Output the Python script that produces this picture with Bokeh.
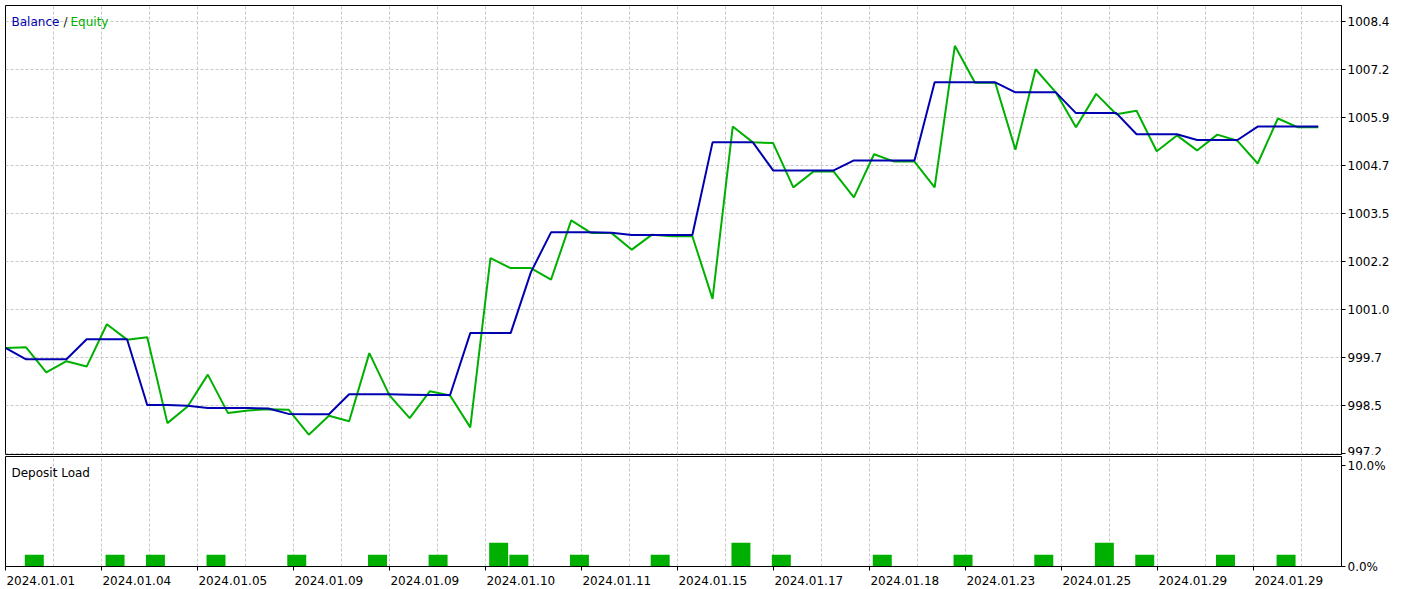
from bokeh.plotting import figure
from bokeh.layouts import column
from bokeh.models import Range1d, FixedTicker, Label, LinearAxis
from bokeh.embed import file_html
from bokeh.resources import INLINE

# ---------------- data ----------------
balance = [
    999.96, 999.67, 999.67, 999.67, 1000.19, 1000.19, 1000.19, 998.48, 998.48, 998.46,
    998.40, 998.40, 998.40, 998.39, 998.25, 998.24, 998.24, 998.76, 998.76, 998.76,
    998.75, 998.74, 998.74, 1000.35, 1000.35, 1000.35, 1001.93, 1002.97, 1002.97, 1002.97,
    1002.96, 1002.90, 1002.90, 1002.90, 1002.90, 1005.31, 1005.31, 1005.31, 1004.58, 1004.58,
    1004.58, 1004.58, 1004.84, 1004.84, 1004.84, 1004.84, 1006.87, 1006.87, 1006.87, 1006.87,
    1006.61, 1006.61, 1006.61, 1006.07, 1006.07, 1006.07, 1005.52, 1005.52, 1005.52, 1005.37,
    1005.37, 1005.37, 1005.72, 1005.72, 1005.72, 1005.72,
]
equity = [
    999.96, 999.98, 999.33, 999.62, 999.48, 1000.58, 1000.18, 1000.24, 998.01, 998.44,
    999.27, 998.27, 998.34, 998.37, 998.36, 997.71, 998.20, 998.06, 999.83, 998.73,
    998.14, 998.84, 998.73, 997.90, 1002.30, 1002.04, 1002.04, 1001.74, 1003.28, 1002.95,
    1002.95, 1002.52, 1002.91, 1002.87, 1002.87, 1001.24, 1005.72, 1005.31, 1005.29, 1004.14,
    1004.55, 1004.55, 1003.88, 1005.00, 1004.81, 1004.81, 1004.14, 1007.82, 1006.86, 1006.86,
    1005.12, 1007.21, 1006.61, 1005.70, 1006.57, 1006.04, 1006.13, 1005.08, 1005.49, 1005.10,
    1005.51, 1005.35, 1004.76, 1005.93, 1005.70, 1005.70,
]
load_deals = [1, 5, 7, 10, 14, 18, 21, 24, 25, 28, 32, 36, 38, 43, 47, 51, 54, 56, 60, 63]
load_pct = [1.17, 1.17, 1.17, 1.17, 1.17, 1.17, 1.17, 2.37, 1.17, 1.17,
            1.17, 2.37, 1.17, 1.17, 1.17, 1.17, 2.37, 1.17, 1.17, 1.17]
date_labels = ["2024.01.01", "2024.01.04", "2024.01.05", "2024.01.09", "2024.01.09",
               "2024.01.10", "2024.01.11", "2024.01.15", "2024.01.17", "2024.01.18",
               "2024.01.23", "2024.01.25", "2024.01.29", "2024.01.29"]
balance_tick_labels = ["997.2", "998.5", "999.7", "1001.0", "1002.2",
                       "1003.5", "1004.7", "1005.9", "1007.2", "1008.4"]
load_tick_values = [0, 10]
load_tick_labels = ["0.0%", "10.0%"]

# ---------------- styling ----------------
BLUE = "#0000B0"
GREEN = "#00B000"
GRID = "#C8C8C8"
FONT = "DejaVu Sans"
FS = "12px"

FRAME_W = 1336
PX = 20.19                       # pixels per deal step
x0 = -0.02
x1 = x0 + FRAME_W / PX
grid_x = [x0 + (48 * k + 0.3) / PX for k in range(1, 28)]
date_x = [x0 + (96 * k + 0.3) / PX for k in range(len(date_labels))]
# labels are drawn centred; shift them so they start just right of their tick
label_x = [d + 35.0 / PX for d in date_x]

y_base, y_step = 997.212, 1.248
y_ticks = [y_base + y_step * k for k in range(len(balance_tick_labels))]

deals = list(range(len(balance)))


def style_common(p):
    p.outline_line_color = "black"
    p.outline_line_width = 1
    p.outline_line_alpha = 1
    p.background_fill_color = "white"
    p.border_fill_color = "white"
    for ax in p.yaxis:
        ax.axis_line_color = "black"
        ax.major_tick_line_color = "black"
        ax.major_tick_out = 4
        ax.major_tick_in = 0
        ax.minor_tick_line_color = None
        ax.major_label_standoff = 2
        ax.major_label_text_font = FONT
        ax.major_label_text_font_size = FS
        ax.major_label_text_color = "black"
    p.xgrid.ticker = FixedTicker(ticks=grid_x)
    p.xgrid.grid_line_color = GRID
    p.xgrid.grid_line_dash = "3 2"
    p.xgrid.grid_line_width = 1


# ---------------- main panel ----------------
p1 = figure(frame_width=FRAME_W, frame_height=449,
            x_range=Range1d(x0, x1), y_range=Range1d(997.194, 1008.868),
            x_axis_location=None, y_axis_location="right",
            output_backend="svg", toolbar_location=None,
            min_border_left=1, min_border_top=1, min_border_bottom=1, min_border_right=52)
style_common(p1)
p1.yaxis.ticker = FixedTicker(ticks=y_ticks)
p1.yaxis.major_label_overrides = {v: s for v, s in zip(y_ticks, balance_tick_labels)}
p1.ygrid.ticker = FixedTicker(ticks=y_ticks)
p1.ygrid.grid_line_color = GRID
p1.ygrid.grid_line_dash = "3 2"

p1.line(deals, equity, line_color=GREEN, line_width=2)
p1.line(deals, balance, line_color=BLUE, line_width=2)

p1.add_layout(Label(x=6, y=433, x_units="screen", y_units="screen", text="Balance",
                    text_color=BLUE, text_font=FONT, text_font_size=FS, text_baseline="alphabetic"))
p1.add_layout(Label(x=58, y=433, x_units="screen", y_units="screen", text="/",
                    text_color="#202020", text_font=FONT, text_font_size=FS, text_baseline="alphabetic"))
p1.add_layout(Label(x=65, y=433, x_units="screen", y_units="screen", text="Equity",
                    text_color=GREEN, text_font=FONT, text_font_size=FS, text_baseline="alphabetic"))

# ---------------- deposit load panel ----------------
p2 = figure(frame_width=FRAME_W, frame_height=110,
            x_range=p1.x_range, y_range=Range1d(0, 10.945),
            x_axis_location=None, y_axis_location="right",
            output_backend="svg", toolbar_location=None,
            min_border_left=1, min_border_top=1, min_border_bottom=23, min_border_right=52)
style_common(p2)
p2.ygrid.visible = False
p2.yaxis.ticker = FixedTicker(ticks=load_tick_values)
p2.yaxis.major_label_overrides = {v: s for v, s in zip(load_tick_values, load_tick_labels)}

# date axis: visible (minor) tick marks at the dates, labels starting just right of them
date_axis = LinearAxis(ticker=FixedTicker(ticks=label_x, minor_ticks=date_x),
                       major_label_overrides={v: s for v, s in zip(label_x, date_labels)},
                       axis_line_color="black",
                       major_tick_line_color=None, major_tick_out=0, major_tick_in=0,
                       minor_tick_line_color="black", minor_tick_out=4, minor_tick_in=0,
                       major_label_standoff=5, major_label_text_font=FONT,
                       major_label_text_font_size=FS, major_label_text_color="black")
p2.add_layout(date_axis, "below")

p2.vbar(x=[d + 0.406 for d in load_deals], top=load_pct, bottom=0, width=0.94,
        fill_color=GREEN, line_color=None)

p2.add_layout(Label(x=6, y=94, x_units="screen", y_units="screen", text="Deposit Load",
                    text_color="black", text_font=FONT, text_font_size=FS, text_baseline="alphabetic"))

layout = column(p1, p2, spacing=0, styles={"margin-left": "4px", "margin-top": "4px"})

open("out.html", "w").write(file_html(layout, INLINE))
